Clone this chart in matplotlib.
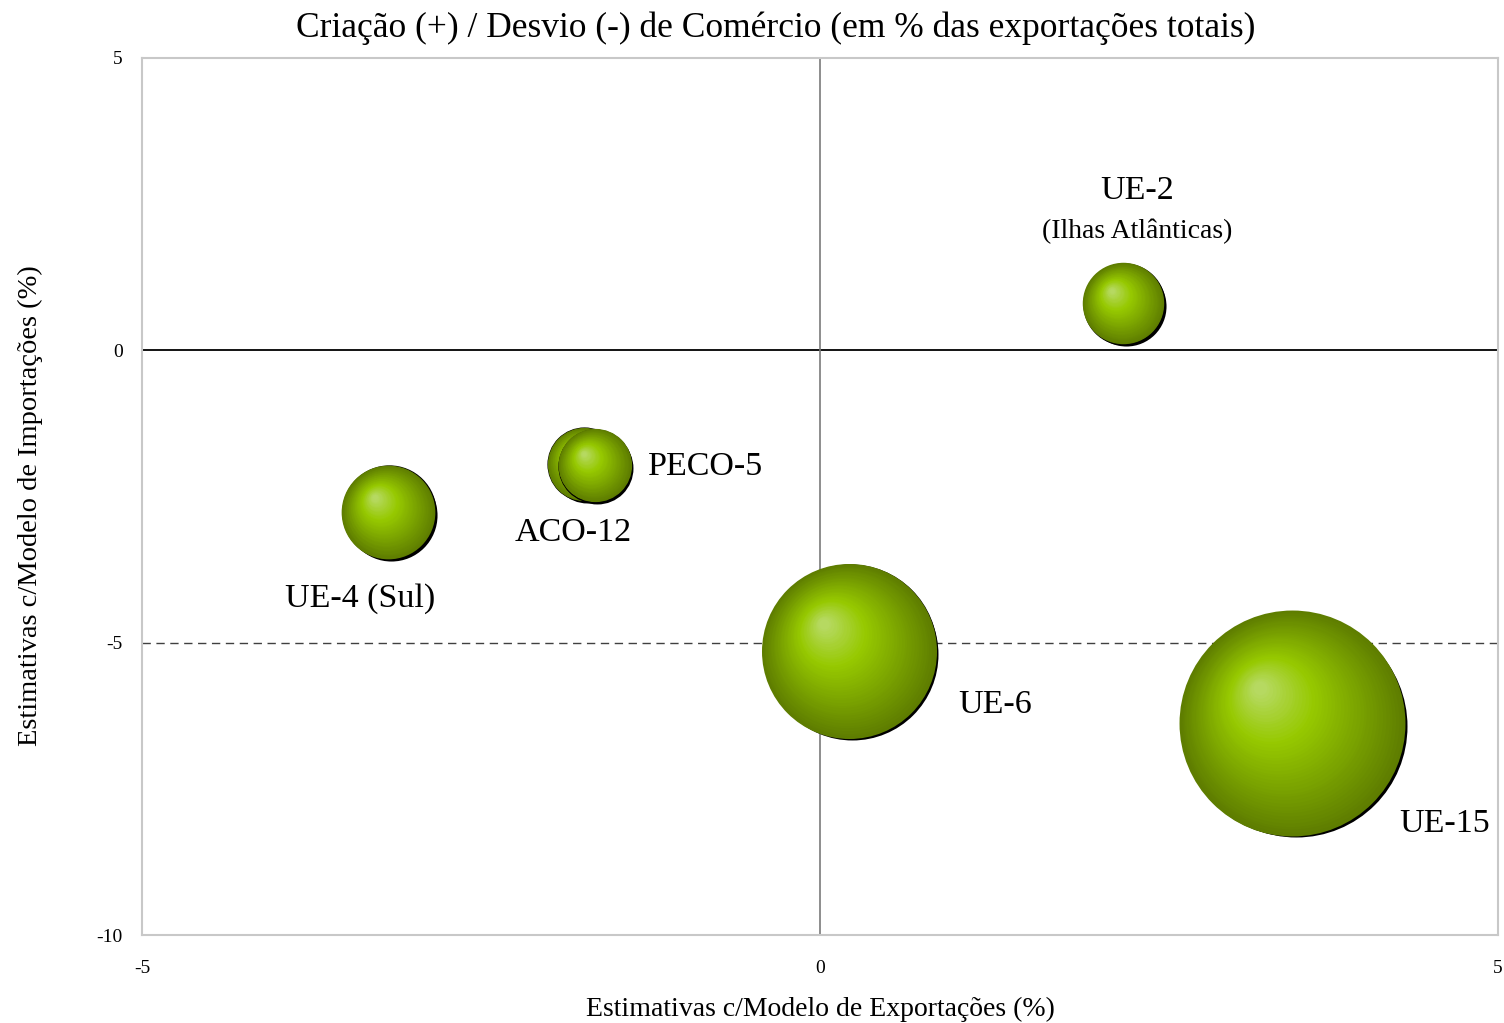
import matplotlib
matplotlib.use("Agg")
import matplotlib.pyplot as plt
import numpy as np
from matplotlib import rcParams
from matplotlib.transforms import ScaledTranslation
from matplotlib.colors import to_rgb

rcParams.update({
    "font.family": ["Liberation Serif", "DejaVu Serif"],
    "font.size": 14,
    "axes.unicode_minus": False,
})

# dados (x: modelo de exportações, y: modelo de importações, tamanho da bolha)
regioes = ["UE-2\n(Ilhas Atlânticas)", "ACO-12", "PECO-5", "UE-4 (Sul)", "UE-6", "UE-15"]
x_export = [2.24, -1.74, -1.66, -3.18, 0.22, 3.49]
y_import = [0.80, -1.95, -1.97, -2.77, -5.15, -6.39]
tamanho = [13.0, 10.5, 10.5, 17.2, 60.0, 100.0]

# deslocamento dos rótulos (pixels) e alinhamento
rot_off = [(13, 96), (-11, -68), (53, -1), (-29, -86), (108, -53), (106, -100)]
rot_ha = ["center", "center", "left", "center", "left", "left"]

fig = plt.figure(figsize=(15.04, 10.23), dpi=100)
ax = fig.add_axes([142 / 1504, 88 / 1023, 1356 / 1504, 877 / 1023])

ax.set_xlim(-5, 5)
ax.set_ylim(-10, 5)
ax.set_xticks([-5, 0, 5])
ax.set_yticks([-10, -5, 0, 5])
ax.tick_params(length=0, labelsize=14)
ax.tick_params(axis="x", pad=18)
ax.tick_params(axis="y", pad=14)
for s in ax.spines.values():
    s.set_color("#c8c8c8")
    s.set_linewidth(1.5)

ax.axhline(0, color="black", lw=1.3, zorder=1)
ax.axvline(0, color="#7a7a7a", lw=1.2, zorder=1)
ax.axhline(-5, color="#404040", lw=1, ls=(0, (6, 4)), zorder=1)

# gradiente da bolha: escuro na borda -> verde vivo -> brilho
c_borda = np.array(to_rgb("#5c7a00"))
c_meio = np.array(to_rgb("#96c900"))
c_luz = np.array(to_rgb("#b8da68"))


def cor(t):
    if t < 0.65:
        return c_borda + (c_meio - c_borda) * (t / 0.65)
    return c_meio + (c_luz - c_meio) * ((t - 0.65) / 0.35)


r_max = 111 * 0.72  # raio da maior bolha em pontos
n = 45
for xi, yi, v in zip(x_export, y_import, tamanho):
    r = r_max * np.sqrt(v / max(tamanho))
    # sombra
    sh = ax.transData + ScaledTranslation(1.8 / 72, -1.8 / 72, fig.dpi_scale_trans)
    ax.scatter([xi], [yi], s=(2 * r) ** 2, color="black", transform=sh, zorder=3, linewidths=0)
    ax.scatter([xi], [yi], s=(2 * r) ** 2, color=c_borda, edgecolors="black",
               linewidths=1.6, zorder=4)
    for i in range(1, n):
        t = i / n
        rr = r * (1 - t) + r * 0.04
        tr = ax.transData + ScaledTranslation(-0.31 * r * t / 72, 0.33 * r * t / 72,
                                              fig.dpi_scale_trans)
        ax.scatter([xi], [yi], s=(2 * rr) ** 2, color=cor(t), transform=tr,
                   zorder=4, linewidths=0)

for nome, xi, yi, off, ha in zip(regioes, x_export, y_import, rot_off, rot_ha):
    if "\n" in nome:
        l1, l2 = nome.split("\n")
        ax.annotate(l1, (xi, yi), xytext=(off[0], off[1] + 17), textcoords="offset pixels",
                    ha=ha, va="center", fontsize=24.5, zorder=6)
        ax.annotate(l2, (xi, yi), xytext=(off[0], off[1] - 24), textcoords="offset pixels",
                    ha=ha, va="center", fontsize=20, zorder=6)
    else:
        ax.annotate(nome, (xi, yi), xytext=off, textcoords="offset pixels",
                    ha=ha, va="center", fontsize=24.5, zorder=6)

ax.set_xlabel("Estimativas c/Modelo de Exportações (%)", fontsize=20)
ax.xaxis.set_label_coords(0.5, -0.070)
ax.set_ylabel("Estimativas c/Modelo de Importações (%)", fontsize=20.5)
ax.yaxis.set_label_coords(-0.073, 0.49)

fig.text(776 / 1504, 1 - 28 / 1023, "Criação (+) / Desvio (-) de Comércio (em % das exportações totais)",
         ha="center", va="center", fontsize=25.5)

fig.savefig("out.png", dpi=100)
